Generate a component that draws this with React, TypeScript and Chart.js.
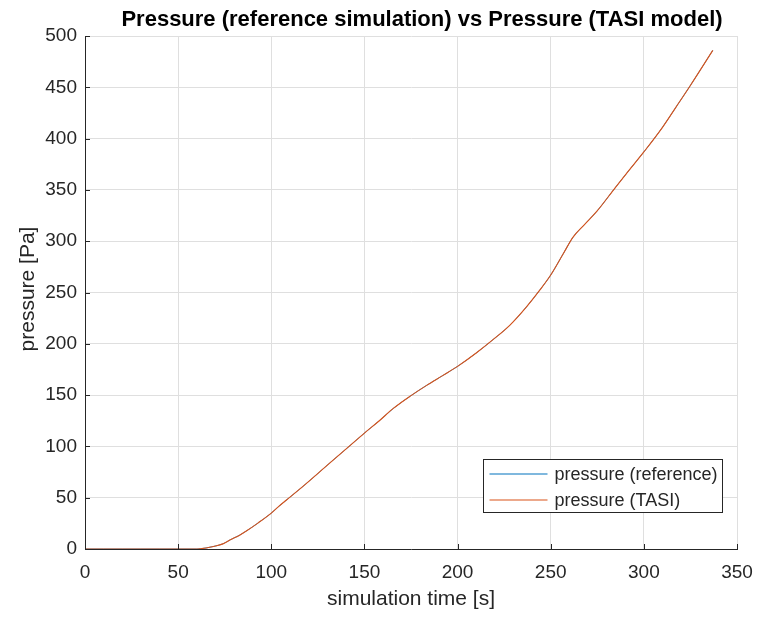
import React, { useEffect, useRef } from "react";
import { Chart, registerables } from "chart.js";

Chart.register(...registerables);

const TITLE = "Pressure (reference simulation) vs Pressure (TASI model)";
const X_LABEL = "simulation time [s]";
const Y_LABEL = "pressure [Pa]";

const timeS = [0, 10, 20, 30, 40, 50, 60, 62, 65, 69, 74, 78, 83, 87, 93, 100, 104, 108, 117, 124, 131.5, 140.5, 150, 158, 165.5, 175, 183.4, 192, 200, 210, 219, 228, 237, 244, 250, 256.8, 262, 268, 274.7, 285, 292, 300, 310, 317, 324.7, 337];
const pressureReference = [0, 0, 0, 0, 0, 0, 0, 0.3, 1, 2.5, 5, 9, 13.5, 18, 25.5, 35, 41.5, 47.5, 61, 72, 84, 98, 113, 125, 137, 149.5, 159.5, 169, 178, 191, 204, 218, 236, 252, 267, 288, 304, 316, 329, 353, 369, 387, 411, 430, 451, 486];
const pressureTASI = [0, 0, 0, 0, 0, 0, 0, 0.3, 1, 2.5, 5, 9, 13.5, 18, 25.5, 35, 41.5, 47.5, 61, 72, 84, 98, 113, 125, 137, 149.5, 159.5, 169, 178, 191, 204, 218, 236, 252, 267, 288, 304, 316, 329, 353, 369, 387, 411, 430, 451, 486];

const seriesLabels = ["pressure (reference)", "pressure (TASI)"];
const seriesColors = ["#0072BD", "#D95319"];

const X_TICKS_STEP = 50;
const Y_TICKS_STEP = 50;

const FONT = '"Liberation Sans", Arial, Helvetica, sans-serif';
const TEXT = "#262626";

const overlay = {
  id: "matlabOverlay",
  afterDraw(chart: any) {
    const ctx = chart.ctx as CanvasRenderingContext2D;
    const xs = chart.scales.x;
    const ys = chart.scales.y;
    const area = chart.chartArea;
    ctx.save();
    // inward ticks
    ctx.strokeStyle = TEXT;
    ctx.lineWidth = 1;
    ctx.beginPath();
    xs.ticks.forEach((t: any) => {
      const px = Math.round(xs.getPixelForValue(t.value)) + 0.5;
      ctx.moveTo(px, area.bottom);
      ctx.lineTo(px, area.bottom - 5);
    });
    ys.ticks.forEach((t: any) => {
      const py = Math.round(ys.getPixelForValue(t.value)) + 0.5;
      ctx.moveTo(area.left, py);
      ctx.lineTo(area.left + 5, py);
    });
    ctx.stroke();

    // title
    ctx.fillStyle = "#000";
    ctx.font = `bold 22px ${FONT}`;
    ctx.textAlign = "center";
    ctx.textBaseline = "alphabetic";
    ctx.fillText(TITLE, 422, 26);

    // axis titles
    ctx.fillStyle = TEXT;
    ctx.font = `21px ${FONT}`;
    ctx.fillText(X_LABEL, 411, 605);
    ctx.save();
    ctx.translate(34, 289);
    ctx.rotate(-Math.PI / 2);
    ctx.fillText(Y_LABEL, 0, 0);
    ctx.restore();

    // legend
    const lx = 483.5, ly = 459.5, lw = 239, lh = 53;
    ctx.fillStyle = "#fff";
    ctx.fillRect(lx, ly, lw, lh);
    ctx.strokeStyle = TEXT;
    ctx.lineWidth = 1;
    ctx.strokeRect(lx, ly, lw, lh);
    ctx.font = `18px ${FONT}`;
    ctx.textAlign = "left";
    ctx.textBaseline = "middle";
    chart.data.datasets.forEach((ds: any, i: number) => {
      const yy = ly + 14.5 + i * 26;
      ctx.strokeStyle = ds.borderColor;
      ctx.lineWidth = 1.1;
      ctx.beginPath();
      ctx.moveTo(lx + 6, yy);
      ctx.lineTo(lx + 64, yy);
      ctx.stroke();
      ctx.fillStyle = TEXT;
      ctx.fillText(ds.label, lx + 71, yy + 1);
    });
    ctx.restore();
  },
};

export default function App() {
  const ref = useRef<HTMLCanvasElement | null>(null);
  useEffect(() => {
    document.body.style.margin = "0";
    const canvas = ref.current!;
    const chart = new Chart(canvas, {
      type: "line",
      data: {
        datasets: [
          {
            label: seriesLabels[0],
            data: timeS.map((t, i) => ({ x: t, y: pressureReference[i] })),
            borderColor: seriesColors[0],
            borderWidth: 0.8,
            pointRadius: 0,
            cubicInterpolationMode: "monotone",
            fill: false,
            order: 1,
          },
          {
            label: seriesLabels[1],
            data: timeS.map((t, i) => ({ x: t, y: pressureTASI[i] })),
            borderColor: seriesColors[1],
            borderWidth: 1.1,
            pointRadius: 0,
            cubicInterpolationMode: "monotone",
            fill: false,
            order: 0,
          },
        ],
      },
      options: {
        animation: false,
        responsive: false,
        layout: { padding: { top: 36, right: 21, left: 0, bottom: 0 } },
        plugins: {
          legend: { display: false },
          title: { display: false },
          tooltip: { enabled: false },
        },
        scales: {
          x: {
            type: "linear",
            min: 0,
            max: 350,
            ticks: {
              stepSize: X_TICKS_STEP,
              color: TEXT,
              font: { family: FONT, size: 19 },
              padding: 12,
              maxRotation: 0,
            },
            grid: { color: "#dfdfdf", drawTicks: false, lineWidth: 1 },
            border: { color: TEXT, width: 1 },
            afterFit: (s: any) => {
              s.height = 68;
              s.paddingLeft = 0;
              s.paddingRight = 0;
            },
          },
          y: {
            type: "linear",
            min: 0,
            max: 500,
            ticks: {
              stepSize: Y_TICKS_STEP,
              color: TEXT,
              font: { family: FONT, size: 19 },
              padding: 8,
            },
            grid: { color: "#dfdfdf", drawTicks: false, lineWidth: 1 },
            border: { color: TEXT, width: 1 },
            afterFit: (s: any) => {
              s.width = 85;
              s.paddingTop = 0;
              s.paddingBottom = 0;
            },
          },
        },
      },
      plugins: [overlay],
    });
    return () => chart.destroy();
  }, []);
  return <canvas ref={ref} width={758} height={617} style={{ display: "block" }} />;
}
